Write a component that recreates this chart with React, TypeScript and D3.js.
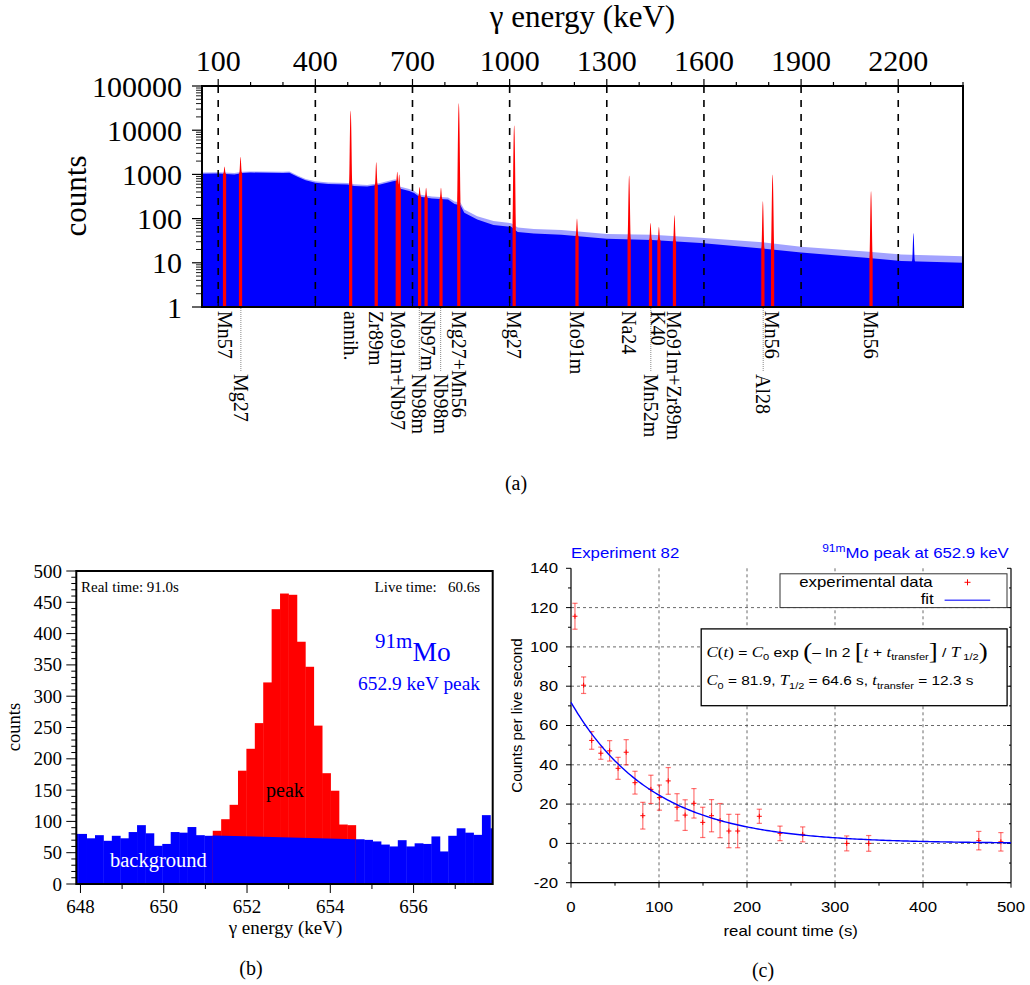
import React from 'react';
import * as d3 from 'd3';

// ================= Panel (a): full gamma spectrum =================
const specTopTicks = [100, 400, 700, 1000, 1300, 1600, 1900, 2200];
const specCountTicks = [1, 10, 100, 1000, 10000, 100000];
const contEnergy = [50, 100, 150, 175, 200, 300, 320, 345, 370, 400, 440, 500, 520, 560, 600, 640, 648, 660, 690, 705, 720, 760, 810, 830, 848, 860, 900, 950, 1005, 1025, 1075, 1160, 1300, 1440, 1590, 1780, 1900, 2100, 2210, 2400];
const contCounts = [1040, 1050, 1000, 1080, 1100, 1080, 1090, 880, 740, 650, 610, 590, 550, 530, 590, 700, 720, 480, 420, 380, 315, 285, 270, 215, 200, 135, 95, 72, 65, 50, 46, 43, 35, 33, 28, 21, 17, 13, 11, 10];
const contUpper = [1110, 1120, 1070, 1150, 1170, 1150, 1160, 940, 790, 700, 660, 640, 595, 575, 640, 760, 780, 530, 465, 420, 350, 318, 302, 245, 230, 160, 113, 88, 79, 63, 58, 55, 45, 43, 37, 29, 23, 18, 15.5, 14];
const peakEnergy = [119.6, 169, 509, 588, 653, 659, 722, 742, 788, 843, 1014, 1208, 1369, 1435, 1461, 1509, 1782, 1812, 2116];
const peakCounts = [1500, 2500, 28000, 1900, 1150, 1000, 520, 500, 500, 41000, 13000, 100, 950, 80, 65, 120, 250, 1000, 420];
const blueSpikeEnergy = [2247];
const blueSpikeCounts = [47];
const labelText = ['Mn57', 'Mg27', 'annih.', 'Zr89m', 'Mo91m+Nb97', 'Nb98m', 'Nb97m', 'Nb98m', 'Mg27+Mn56', 'Mg27', 'Mo91m', 'Na24', 'Mn52m', 'K40', 'Mo91m+Zr89m', 'Al28', 'Mn56', 'Mn56'];
const labelEnergy = [121, 170, 509, 587, 654, 721, 747, 787, 843, 1014, 1208, 1369, 1436, 1458, 1509, 1783, 1809, 2116];
const labelLow = [false, true, false, false, false, true, false, true, false, false, false, false, true, false, false, true, false, false];

// ================= Panel (b): 91mMo peak =================
const binWidth = 0.202;
const firstBinEdge = 647.743;
const binCounts = [80, 80, 73, 78, 69, 77, 73, 83, 94, 81, 61, 64, 83, 82, 91, 78, 77,
  85, 103.5, 126.5, 181, 216, 257, 322, 439, 464, 462, 387, 347, 253, 177, 149, 95, 94,
  71.5, 70.5, 68, 63, 60, 70, 60, 65, 64, 76, 52, 77, 89, 82, 78.5, 110, 89];
const peakBinRange = [17, 33];
const peakBackground = [77.5, 71.5];
const bYTicks = [0, 50, 100, 150, 200, 250, 300, 350, 400, 450, 500];
const bXTicks = [648, 650, 652, 654, 656];

// ================= Panel (c): decay curve =================
const decayTime = [4.5, 14.3, 23.5, 33.9, 43.9, 53.5, 62.7, 72.7, 81.6, 90.8, 100.5, 110.5, 120.5, 129.7, 139.7, 149.7, 159.7, 169.4, 179.4, 189.4, 214, 237.5, 263.3, 313.3, 338.3, 463.4, 488.5];
const decayRate = [115.6, 80.5, 52.4, 45.9, 47.1, 38.2, 46.4, 30.9, 14.1, 27.5, 23.3, 31.8, 18.4, 14.4, 20.4, 10.7, 14.1, 11.6, 6.3, 6.3, 13.8, 5.1, 4.6, 0, 0, 1.4, 0.8];
const decayErr = [6.6, 4.2, 4.5, 3.1, 5.2, 5.6, 6.4, 5.8, 6.8, 7.2, 6.4, 6.8, 6.9, 7.8, 7.5, 7.7, 8.2, 8.7, 8.5, 8.5, 3.6, 3.7, 3.8, 3.8, 4.0, 4.7, 4.7];
const fitC0 = 81.9;
const fitHalfLife = 64.6;
const fitTransfer = 12.3;
const cXTicks = [0, 100, 200, 300, 400, 500];
const cYTicks = [-20, 0, 20, 40, 60, 80, 100, 120, 140];

const SERIF = "'Liberation Serif', 'Times New Roman', Times, serif";
const SANS = "'Liberation Sans', Arial, Helvetica, sans-serif";

function SText(props: any) {
  const { x, y, anchor = 'start', size = 14, fill = '#000', children, baseline, style, sx = 1.2 } = props;
  return (
    <text transform={`translate(${x},${y}) scale(${sx},1)`} textAnchor={anchor} fontSize={size}
      fontFamily={SANS} fill={fill} dominantBaseline={baseline} style={style}>{children}</text>
  );
}

function PanelA() {
  const L = 202, R = 963, T = 86, B = 307;
  const xA = d3.scaleLinear().domain([50, 2400]).range([L, R]);
  const yA = d3.scaleLog().domain([1, 100000]).range([B, T]);
  const contAt = d3.scaleLinear().domain(contEnergy).range(contCounts).clamp(true);
  const pts = contEnergy.map((e, i) => ({ e, c: contCounts[i], u: contUpper[i] }));
  const areaC = d3.area<any>().x(d => xA(d.e)).y0(B).y1(d => yA(d.c));
  const areaU = d3.area<any>().x(d => xA(d.e)).y0(B).y1(d => yA(d.u));
  const offs = d3.range(-5, 5.01, 0.5);
  const peakPath = (E: number, P: number) => {
    const pp = offs.map(o => {
      const base = contAt(E + o);
      const v = base + Math.max(0, P - base) * Math.exp(-0.5 * (o / 1.4) * (o / 1.4));
      return { e: E + o, c: Math.max(v, 1) };
    });
    return areaC(pp);
  };
  const minorX = d3.range(100, 2401, 100);
  const minorY: number[] = [];
  [1, 10, 100, 1000, 10000].forEach(d => { for (let m = 2; m <= 9; m++) minorY.push(d * m); });

  return (
    <g>
      <defs>
        <clipPath id="clipA"><rect x={L} y={T} width={R - L} height={B - T} /></clipPath>
      </defs>
      <text x={(L + R) / 2} y={27} textAnchor="middle" fontFamily={SERIF} fontSize={31}>γ energy (keV)</text>
      <text transform={`translate(86,196) rotate(-90)`} textAnchor="middle" fontFamily={SERIF} fontSize={31}>counts</text>
      <g clipPath="url(#clipA)">
        <path d={areaU(pts) || ''} fill="#7a7aff" opacity={0.7} />
        <path d={areaC(pts) || ''} fill="#0000ff" />
        {blueSpikeEnergy.map((e, i) => <path key={'bs' + i} d={peakPath(e, blueSpikeCounts[i]) || ''} fill="#0000ff" />)}
        {peakEnergy.map((e, i) => <path key={'pk' + i} d={peakPath(e, peakCounts[i]) || ''} fill="#ff0000" />)}
      </g>
      {specTopTicks.map(v => (
        <line key={'dl' + v} x1={xA(v)} x2={xA(v)} y1={T} y2={B} stroke="#000" strokeWidth={1.6} strokeDasharray="7,7" />
      ))}
      {minorX.map(v => (
        <line key={'tx' + v} x1={xA(v)} x2={xA(v)} y1={T} y2={T - (specTopTicks.includes(v) ? 7 : 4)} stroke="#000" strokeWidth={1.2} />
      ))}
      {specTopTicks.map(v => (
        <g key={'tl' + v}>
          <text x={xA(v)} y={71} textAnchor="middle" fontFamily={SERIF} fontSize={30}>{v}</text>
          <line x1={xA(v)} x2={xA(v)} y1={B} y2={B - 5} stroke="#000" strokeWidth={1.2} />
        </g>
      ))}
      {minorY.map(v => (
        <line key={'my' + v} x1={L} x2={L - 6} y1={yA(v)} y2={yA(v)} stroke="#000" strokeWidth={0.9} />
      ))}
      {specCountTicks.map(v => (
        <g key={'yl' + v}>
          <line x1={L} x2={L - 10} y1={yA(v)} y2={yA(v)} stroke="#000" strokeWidth={1.2} />
          <text x={182} y={yA(v)} textAnchor="end" dominantBaseline="central" fontFamily={SERIF} fontSize={30}>{v}</text>
        </g>
      ))}
      <rect x={L} y={T} width={R - L} height={B - T} fill="none" stroke="#000" strokeWidth={2} />
      {labelText.map((t, i) => {
        const x = xA(labelEnergy[i]);
        const y0 = labelLow[i] ? 374 : 311;
        return (
          <g key={'lb' + i}>
            {labelLow[i] && <line x1={x} x2={x} y1={B + 1} y2={371} stroke="#888" strokeWidth={1} strokeDasharray="1,1" />}
            <text transform={`translate(${x},${y0}) rotate(90)`} dominantBaseline="central" fontFamily={SERIF} fontSize={20}>{t}</text>
          </g>
        );
      })}
      <text x={516} y={490} textAnchor="middle" fontFamily={SERIF} fontSize={20}>(a)</text>
    </g>
  );
}

function PanelB() {
  const L = 76.3, R = 492.7;
  const xB = d3.scaleLinear().domain([647.9, 657.9]).range([L, R]);
  const yB = d3.scaleLinear().domain([0, 500]).range([884, 571]);
  const T = yB(500), B = yB(0);
  const pkStart = firstBinEdge + peakBinRange[0] * binWidth;
  const pkEnd = firstBinEdge + (peakBinRange[1] + 1) * binWidth;
  const bgPoly = [[xB(pkStart), B], [xB(pkStart), yB(peakBackground[0])], [xB(pkEnd), yB(peakBackground[1])], [xB(pkEnd), B]];
  const minorY = d3.range(0, 501, 10);
  const minorX = d3.range(648, 658, 1);
  return (
    <g>
      <defs>
        <clipPath id="clipB"><rect x={L} y={T} width={R - L} height={B - T} /></clipPath>
      </defs>
      <g clipPath="url(#clipB)">
        {binCounts.map((v, i) => {
          const e0 = firstBinEdge + i * binWidth;
          const isPeak = i >= peakBinRange[0] && i <= peakBinRange[1];
          return <rect key={'b' + i} x={xB(e0)} y={yB(v)} width={xB(e0 + binWidth) - xB(e0) + 0.4} height={B - yB(v)} fill={isPeak ? '#ff0000' : '#0000ff'} />;
        })}
        <polygon points={bgPoly.map(p => p.join(',')).join(' ')} fill="#0000ff" />
      </g>
      {minorY.map(v => (
        <line key={'my' + v} x1={L} x2={L - (v % 50 === 0 ? 10 : 5)} y1={yB(v)} y2={yB(v)} stroke="#000" strokeWidth={1} />
      ))}
      {bYTicks.map(v => (
        <text key={'yt' + v} x={62} y={yB(v)} textAnchor="end" dominantBaseline="central" fontFamily={SERIF} fontSize={19}>{v}</text>
      ))}
      {minorX.map(v => (
        <line key={'mx' + v} x1={xB(v)} x2={xB(v)} y1={B} y2={B + (v % 2 === 0 ? 9 : 5)} stroke="#000" strokeWidth={1} />
      ))}
      {bXTicks.map(v => (
        <text key={'xt' + v} x={xB(v)} y={913} textAnchor="middle" fontFamily={SERIF} fontSize={19}>{v}</text>
      ))}
      <rect x={L} y={T} width={R - L} height={B - T} fill="none" stroke="#000" strokeWidth={2} />
      <text x={81} y={592} fontFamily={SERIF} fontSize={15}>Real time: 91.0s</text>
      <text x={480} y={592} textAnchor="end" fontFamily={SERIF} fontSize={15} style={{ whiteSpace: 'pre' }}>{'Live time:   60.6s'}</text>
      <text x={375} y={648} fontFamily={SERIF} fontSize={21} fill="#0000ff">91m</text>
      <text x={412.5} y={661} fontFamily={SERIF} fontSize={27.5} fill="#0000ff">Mo</text>
      <text x={480} y={690} textAnchor="end" fontFamily={SERIF} fontSize={19.4} fill="#0000ff">652.9 keV peak</text>
      <text x={285} y={797} textAnchor="middle" fontFamily={SERIF} fontSize={20}>peak</text>
      <text x={110} y={867} fontFamily={SERIF} fontSize={20.5} fill="#ffffff">background</text>
      <text x={285.5} y={934} textAnchor="middle" fontFamily={SERIF} fontSize={19}>γ energy (keV)</text>
      <text transform="translate(20,727) rotate(-90)" textAnchor="middle" fontFamily={SERIF} fontSize={18.5}>counts</text>
      <text x={251} y={975} textAnchor="middle" fontFamily={SERIF} fontSize={20}>(b)</text>
    </g>
  );
}

function PanelC() {
  const L = 571, R = 1011;
  const xC = d3.scaleLinear().domain([0, 500]).range([L, R]);
  const yC = d3.scaleLinear().domain([-20, 140]).range([882.7, 568.3]);
  const T = yC(140), B = yC(-20);
  const fitT = d3.range(0, 500.1, 2.5);
  const fitLine = d3.line<number>().x(t => xC(t)).y(t => yC(fitC0 * Math.exp(-Math.LN2 * (t + fitTransfer) / fitHalfLife)));
  const gridY = [0, 20, 40, 60, 80, 100, 120];
  const gridX = [100, 200, 300, 400];
  const minorY = d3.range(-10, 140, 20);
  const minorX = d3.range(50, 500, 100);
  const serifIt = { fontFamily: SERIF, fontStyle: 'italic' as const, fontSize: 14.5 };
  return (
    <g>
      {gridY.map(v => <line key={'gy' + v} x1={L} x2={R} y1={yC(v)} y2={yC(v)} stroke="#444" strokeWidth={0.8} strokeDasharray="3,3" />)}
      {gridX.map(v => <line key={'gx' + v} x1={xC(v)} x2={xC(v)} y1={T} y2={B} stroke="#444" strokeWidth={0.8} strokeDasharray="3,3" />)}
      <line x1={L} x2={L} y1={T} y2={B} stroke="#000" strokeWidth={1.2} />
      <line x1={L} x2={R} y1={B} y2={B} stroke="#000" strokeWidth={1.2} />
      <line x1={R} x2={R} y1={T} y2={B} stroke="#000" strokeWidth={1.2} />
      {cYTicks.map(v => (
        <g key={'cy' + v}>
          <line x1={L} x2={L - 5} y1={yC(v)} y2={yC(v)} stroke="#000" strokeWidth={1} />
          <line x1={R} x2={R - 4} y1={yC(v)} y2={yC(v)} stroke="#000" strokeWidth={1} />
          <SText x={558} y={yC(v)} anchor="end" baseline="central" size={14}>{v}</SText>
        </g>
      ))}
      {minorY.map(v => (
        <g key={'cmy' + v}>
          <line x1={L} x2={L - 3} y1={yC(v)} y2={yC(v)} stroke="#000" strokeWidth={1} />
          <line x1={R} x2={R - 2} y1={yC(v)} y2={yC(v)} stroke="#000" strokeWidth={1} />
        </g>
      ))}
      {cXTicks.map(v => (
        <g key={'cx' + v}>
          <line x1={xC(v)} x2={xC(v)} y1={B} y2={B + 5} stroke="#000" strokeWidth={1} />
          <SText x={xC(v)} y={912} anchor="middle" size={14}>{v}</SText>
        </g>
      ))}
      {minorX.map(v => <line key={'cmx' + v} x1={xC(v)} x2={xC(v)} y1={B} y2={B + 3} stroke="#000" strokeWidth={1} />)}
      {decayTime.map((t, i) => {
        const x = xC(t), y = yC(decayRate[i]);
        const y1 = yC(decayRate[i] + decayErr[i]), y2 = yC(decayRate[i] - decayErr[i]);
        return (
          <g key={'p' + i} stroke="#ff0000">
            <g strokeOpacity={0.55} strokeWidth={1.2}>
              <line x1={x} x2={x} y1={y1} y2={y2} />
              <line x1={x - 2.6} x2={x + 2.6} y1={y1} y2={y1} />
              <line x1={x - 2.6} x2={x + 2.6} y1={y2} y2={y2} />
            </g>
            <line x1={x - 2.5} x2={x + 2.5} y1={y} y2={y} strokeWidth={1} />
            <line x1={x} x2={x} y1={y - 2.5} y2={y + 2.5} strokeWidth={1} />
          </g>
        );
      })}
      <path d={fitLine(fitT) || ''} fill="none" stroke="#0000ff" strokeWidth={1.4} />
      <SText x={571} y={557.6} size={14} fill="#0000ff">Experiment 82</SText>
      <SText x={1008.8} y={557.6} anchor="end" size={14} fill="#0000ff">
        <tspan fontSize={10} dy={-6}>91m</tspan><tspan dy={6}>Mo peak at 652.9 keV</tspan>
      </SText>
      <rect x={780} y={573.8} width={227} height={33.8} fill="#fff" stroke="#333" strokeWidth={1} />
      <SText x={932.7} y={587.3} anchor="end" size={14}>experimental data</SText>
      <line x1={964.5} x2={970.5} y1={582.3} y2={582.3} stroke="#ff0000" strokeWidth={1} />
      <line x1={967.5} x2={967.5} y1={579.3} y2={585.3} stroke="#ff0000" strokeWidth={1} />
      <SText x={933.7} y={604.2} anchor="end" size={14}>fit</SText>
      <line x1={944.6} x2={990.2} y1={600.2} y2={600.2} stroke="#0000ff" strokeWidth={1.4} opacity={0.7} />
      <rect x={701.2} y={628.9} width={305.9} height={76.8} fill="#fff" stroke="#000" strokeWidth={1.3} />
      <SText x={706.5} y={656.6} size={13.4} sx={1.17}>
        <tspan {...serifIt}>C</tspan><tspan fontFamily={SERIF} fontSize={14.5}>(</tspan><tspan {...serifIt}>t</tspan><tspan fontFamily={SERIF} fontSize={14.5}>)</tspan>
        <tspan>{' = '}</tspan><tspan {...serifIt}>C</tspan><tspan fontSize={9.5} dy={3.5}>0</tspan>
        <tspan dy={-3.5}>{' exp '}</tspan>
        <tspan fontFamily={SERIF} fontSize={23} dy={2.5}>(</tspan>
        <tspan dy={-2.5}>{'– ln 2 '}</tspan>
        <tspan fontFamily={SERIF} fontSize={23} dy={2.5}>[</tspan>
        <tspan {...serifIt} dy={-2.5}>t</tspan><tspan>{' + '}</tspan><tspan {...serifIt}>t</tspan>
        <tspan fontSize={9.5} dy={3.5}>transfer</tspan>
        <tspan fontFamily={SERIF} fontSize={23} dy={-1}>]</tspan>
        <tspan dy={-2.5}>{' / '}</tspan><tspan {...serifIt}>T</tspan>
        <tspan fontSize={9.5} dy={3.5}>{' 1/2'}</tspan>
        <tspan fontFamily={SERIF} fontSize={23} dy={-1}>)</tspan>
      </SText>
      <SText x={706.5} y={685.4} size={13.4} sx={1.15}>
        <tspan {...serifIt}>C</tspan><tspan fontSize={9.5} dy={3.5}>0</tspan>
        <tspan dy={-3.5}>{' = 81.9, '}</tspan><tspan {...serifIt}>T</tspan>
        <tspan fontSize={9.5} dy={3.5}>1/2</tspan>
        <tspan dy={-3.5}>{' = 64.6 s, '}</tspan><tspan {...serifIt}>t</tspan>
        <tspan fontSize={9.5} dy={3.5}>transfer</tspan>
        <tspan dy={-3.5}>{' = 12.3 s'}</tspan>
      </SText>
      <text transform="translate(522,715.5) rotate(-90)" textAnchor="middle" fontFamily={SANS} fontSize={15.2}>Counts per live second</text>
      <SText x={790.7} y={936} anchor="middle" size={14}>real count time (s)</SText>
      <text x={763} y={977} textAnchor="middle" fontFamily={SERIF} fontSize={20}>(c)</text>
    </g>
  );
}

export default function App() {
  return (
    <svg width={1030} height={985} viewBox="0 0 1030 985" style={{ position: 'absolute', left: 0, top: 0, background: '#fff' }}>
      <rect x={0} y={0} width={1030} height={985} fill="#fff" />
      <PanelA />
      <PanelB />
      <PanelC />
    </svg>
  );
}
